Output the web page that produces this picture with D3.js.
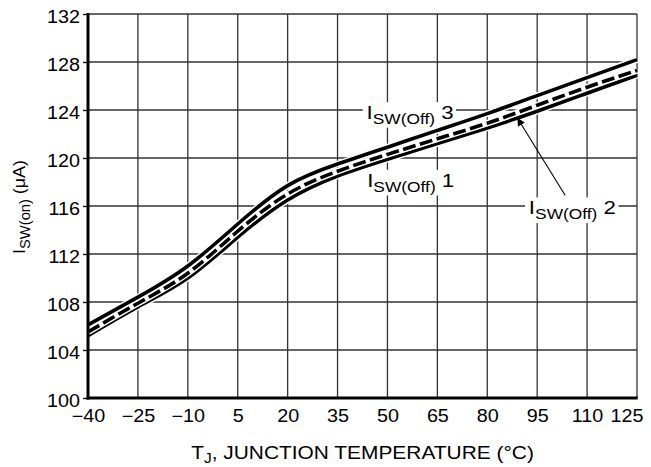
<!DOCTYPE html>
<html>
<head>
<meta charset="utf-8">
<script src="https://cdn.jsdelivr.net/npm/d3@7"></script>
<style>
  html, body { margin: 0; padding: 0; background: #fff; }
  svg { display: block; font-family: "Liberation Sans", Arial, Helvetica, sans-serif; }
</style>
</head>
<body>
<svg id="chart" width="651" height="467"></svg>
<script>
// Junction temperature (°C) sample points
const temps = [-40, -25, -10, 5, 20, 35, 50, 65, 80, 95, 110, 125];
// Switch current (µA) for the three curves
const isw1 = [105.2, 107.6, 110.0, 113.4, 116.5, 118.5, 119.9, 121.2, 122.5, 123.9, 125.4, 126.9];
const isw2 = [105.5, 107.9, 110.4, 113.9, 117.0, 118.9, 120.3, 121.6, 122.9, 124.4, 125.9, 127.3];
const isw3 = [106.1, 108.4, 111.0, 114.5, 117.7, 119.5, 120.9, 122.3, 123.7, 125.2, 126.7, 128.2];
// Axis ticks
const xTicks = [-40, -25, -10, 5, 20, 35, 50, 65, 80, 95, 110, 125];
const yTicks = [100, 104, 108, 112, 116, 120, 124, 128, 132];

const FONT = "Liberation Sans, Arial, sans-serif";
const svg = d3.select("#chart");
const m = { left: 88, right: 637, top: 14, bottom: 398 };

const x = d3.scaleLinear().domain([-40, 125]).range([m.left, m.right]);
const y = d3.scaleLinear().domain([100, 132]).range([m.bottom, m.top]);

// grid
const grid = svg.append("g").attr("stroke", "#333").attr("stroke-width", 1.3);
grid.selectAll("line.v").data(xTicks).join("line")
  .attr("x1", d => x(d)).attr("x2", d => x(d))
  .attr("y1", m.top).attr("y2", m.bottom);
grid.selectAll("line.h").data(yTicks).join("line")
  .attr("x1", m.left).attr("x2", m.right)
  .attr("y1", d => y(d)).attr("y2", d => y(d));

// curve labels on white patches that interrupt the grid
const labels = svg.append("g");
function curveLabel(tx, ty, num) {
  const g = labels.append("g")
    .attr("transform", `translate(${x(tx)},${y(ty)}) scale(1.24,1)`);
  const bg = g.append("rect").attr("fill", "#fff");
  const t = g.append("text").attr("font-size", 18).attr("fill", "#000");
  t.append("tspan").text("I");
  t.append("tspan").attr("font-size", 14).attr("dy", 5).text("SW(Off)");
  t.append("tspan").attr("dy", -5).text(" " + num);
  const b = t.node().getBBox();
  bg.attr("x", b.x - 3).attr("y", b.y - 1).attr("width", b.width + 5).attr("height", b.height + 2);
}
curveLabel(43.7, 123.25, "3");
curveLabel(43.9, 117.6, "1");
curveLabel(92.5, 115.3, "2");

// curves, each with a white outline so neighbouring lines stay distinct
const line = d3.line().x((d, i) => x(temps[i])).y(d => y(d)).curve(d3.curveNatural);
const series = [
  { v: isw1, dash: null },
  { v: isw2, dash: "13 4.5" },
  { v: isw3, dash: null }
];
const curves = svg.append("g").attr("fill", "none");
series.forEach(s => {
  curves.append("path").attr("d", line(s.v))
    .attr("stroke", "#fff").attr("stroke-width", 6.5);
  curves.append("path").attr("d", line(s.v))
    .attr("stroke", "#000").attr("stroke-width", 3.6)
    .attr("stroke-dasharray", s.dash);
});

// axes
const TICK_FS = 17.5, TICK_SX = 1.13;
const yAxis = d3.axisLeft(y).tickValues(yTicks).tickSize(5).tickPadding(0);
const gy = svg.append("g").attr("transform", `translate(${m.left},0)`).call(yAxis);
gy.select(".domain").remove();
gy.selectAll(".tick line").attr("stroke", "#000").attr("stroke-width", 1.3);
gy.selectAll(".tick text").attr("font-size", TICK_FS).attr("fill", "#000")
  .attr("font-family", FONT)
  .attr("x", -8 / TICK_SX).attr("dy", "0.46em")
  .attr("transform", `scale(${TICK_SX},1)`);

const xAxis = d3.axisBottom(x).tickValues(xTicks).tickSize(0).tickPadding(0)
  .tickFormat(d => d < 0 ? "\u2212" + Math.abs(d) : String(d));
const gx = svg.append("g").attr("transform", `translate(0,${m.bottom})`).call(xAxis);
gx.select(".domain").remove();
gx.selectAll(".tick text").attr("font-size", TICK_FS).attr("fill", "#000")
  .attr("font-family", FONT)
  .attr("y", 24).attr("dy", 0)
  .attr("transform", `scale(${TICK_SX},1)`);
// the last label sits flush with the chart's right edge
gx.selectAll(".tick text").filter(d => d === xTicks[xTicks.length - 1])
  .attr("text-anchor", "end").attr("x", 6 / TICK_SX);

svg.append("line").attr("x1", m.left).attr("x2", m.left)
  .attr("y1", m.top - 1).attr("y2", m.bottom + 1.5)
  .attr("stroke", "#000").attr("stroke-width", 3);
svg.append("line").attr("x1", m.left - 1.5).attr("x2", m.right + 0.7)
  .attr("y1", m.bottom).attr("y2", m.bottom)
  .attr("stroke", "#000").attr("stroke-width", 3);

// pointer from label 2 to its curve
svg.append("defs").append("marker").attr("id", "arrow")
  .attr("viewBox", "0 0 10 10").attr("refX", 10).attr("refY", 5)
  .attr("markerWidth", 11).attr("markerHeight", 8).attr("markerUnits", "userSpaceOnUse")
  .attr("orient", "auto")
  .append("path").attr("d", "M0,0 L10,5 L0,10 Z").attr("fill", "#000");
svg.append("line")
  .attr("x1", x(103.4)).attr("y1", y(116.9))
  .attr("x2", x(89)).attr("y2", y(123.35))
  .attr("stroke", "#000").attr("stroke-width", 1.1)
  .attr("marker-end", "url(#arrow)");

// axis titles
const xt = svg.append("text")
  .attr("transform", `translate(${(m.left + m.right) / 2},459) scale(1.1,1)`)
  .attr("text-anchor", "middle").attr("font-size", 19).attr("fill", "#000");
xt.append("tspan").text("T");
xt.append("tspan").attr("font-size", 14).attr("dy", 4).text("J");
xt.append("tspan").attr("dy", -4).text(", JUNCTION TEMPERATURE (\u00B0C)");

const yt = svg.append("text")
  .attr("transform", `translate(25,207) rotate(-90) scale(1.05,1)`)
  .attr("text-anchor", "middle").attr("font-size", 17).attr("fill", "#000");
yt.append("tspan").text("I");
yt.append("tspan").attr("font-size", 14).attr("dy", 5).text("SW(on)");
yt.append("tspan").attr("dy", -5).text(" (\u03BCA)");
</script>
</body>
</html>
